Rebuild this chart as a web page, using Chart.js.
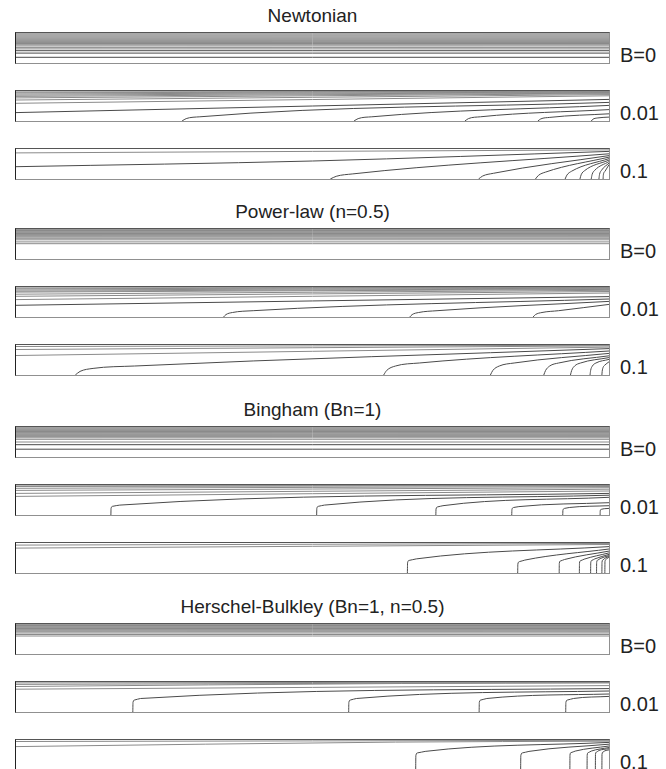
<!DOCTYPE html>
<html>
<head>
<meta charset="utf-8">
<script src="https://cdn.jsdelivr.net/npm/chart.js@4.4.1/dist/chart.umd.min.js"></script>
<style>
  body { margin: 0; width: 666px; height: 769px; overflow: hidden; background: #fff;
         font-family: "Liberation Sans", Arial, sans-serif; position: relative; color: #222; }
  .title { position: absolute; left: 16px; width: 593px; text-align: center; font-size: 19px; line-height: 22px; }
  .label { position: absolute; left: 620px; font-size: 20px; line-height: 22px; }
  .panel { position: absolute; left: 15px; width: 593px; height: 30px;
           border: 1px solid #909090; border-left-color: #222; border-top-color: #555; }
  .panel canvas { display: block; }
</style>
</head>
<body>
<script>
// group titles and row labels
const titles = ['Newtonian', 'Power-law (n=0.5)', 'Bingham (Bn=1)', 'Herschel-Bulkley (Bn=1, n=0.5)'];
const rowLabels = ['B=0', '0.01', '0.1'];

// B=0: heights (0 = bottom wall, 1 = top) of the straight streamlines
const newtonianB0 = [1, .965, .93, .895, .86, .825, .79, .755, .72, .685, .65, .61, .57, .52, .47, .41, .33, .19];
const powerLawB0  = [1, .975, .95, .925, .9, .875, .85, .82, .79, .76, .73, .69, .64, .57, .51];
const binghamB0   = [1, .97, .94, .91, .88, .85, .82, .79, .755, .72, .68, .64, .59, .5, .41, .26];
const hbB0        = [1, .975, .95, .925, .9, .875, .85, .825, .8, .77, .74, .7, .65, .6];

// B>0: streamlines as [x, y] points (x along the channel, y up)
const newtonianB001 = [
  [[0, .97], [1, .99]], [[0, .94], [1, .98]], [[0, .9], [1, .965]], [[0, .86], [1, .95]],
  [[0, .82], [1, .93]], [[0, .77], [1, .91]], [[0, .7], [1, .88]], [[0, .59], [1, .84]],
  [[0, .28], [.5, .5], [1, .72]],
  [[.28, 0], [.287, .08], [.31, .14], [1, .62]],
  [[.57, 0], [.577, .08], [.6, .14], [1, .52]],
  [[.757, 0], [.763, .08], [.783, .14], [1, .38]],
  [[.88, 0], [.885, .07], [.9, .12], [1, .24]],
  [[.97, 0], [.973, .06], [.98, .1], [1, .13]]
];
const newtonianB01 = [
  [[0, .87], [1, .97]],
  [[0, .41], [.5, .6], [1, .92]],
  [[.53, 0], [.54, .09], [.568, .17], [1, .84]],
  [[.78, 0], [.787, .1], [.805, .19], [1, .78]],
  [[.876, 0], [.881, .12], [.893, .23], [1, .73]],
  [[.926, 0], [.929, .13], [.937, .26], [1, .68]],
  [[.951, 0], [.953, .14], [.959, .28], [1, .63]],
  [[.97, 0], [.9715, .15], [.976, .29], [1, .58]],
  [[.983, 0], [.984, .15], [.987, .28], [1, .53]],
  [[.99, 0], [.9905, .14], [.993, .25], [1, .48]]
];
const powerLawB001 = [
  [[0, .97], [1, .99]], [[0, .94], [1, .98]], [[0, .9], [1, .96]], [[0, .86], [1, .94]],
  [[0, .83], [1, .92]], [[0, .76], [1, .89]], [[0, .69], [1, .85]], [[0, .58], [1, .8]],
  [[0, .39], [1, .68]],
  [[.35, 0], [.354, .08], [.365, .15], [.4, .21], [1, .6]],
  [[.664, 0], [.668, .08], [.679, .15], [.71, .21], [1, .52]],
  [[.872, 0], [.876, .08], [.887, .15], [.915, .21], [1, .42]]
];
const powerLawB01 = [
  [[0, .95], [1, .99]], [[0, .85], [1, .97]], [[0, .65], [1, .93]],
  [[.1, 0], [.108, .12], [.13, .22], [.2, .3], [1, .88]],
  [[.62, 0], [.625, .15], [.64, .3], [.68, .4], [1, .8]],
  [[.8, 0], [.804, .15], [.815, .3], [.84, .4], [1, .72]],
  [[.89, 0], [.893, .15], [.9, .3], [.915, .4], [1, .64]],
  [[.935, 0], [.937, .15], [.942, .3], [.952, .4], [1, .58]],
  [[.968, 0], [.969, .15], [.972, .3], [.978, .4], [1, .52]],
  [[.988, 0], [.9885, .12], [.99, .25], [.993, .33], [1, .44]]
];
const binghamB001 = [
  [[0, .97], [1, .99]], [[0, .95], [1, .98]], [[0, .89], [1, .95]], [[0, .82], [1, .91]],
  [[0, .72], [1, .86]], [[0, .62], [1, .8]],
  [[.16, 0], [.1603, .22], [.163, .29], [.175, .33], [1, .72]],
  [[.507, 0], [.5073, .22], [.51, .29], [.52, .33], [1, .66]],
  [[.708, 0], [.7083, .2], [.711, .27], [.72, .31], [1, .59]],
  [[.836, 0], [.8363, .18], [.839, .25], [.848, .28], [1, .41]],
  [[.922, 0], [.9223, .16], [.925, .22], [.933, .25], [1, .31]],
  [[.985, 0], [.9852, .14], [.987, .19], [.992, .21], [1, .22]]
];
const binghamB01 = [
  [[0, .93], [1, .985]], [[0, .83], [1, .95]],
  [[.66, 0], [.6603, .34], [.663, .42], [.675, .47], [1, .88]],
  [[.846, 0], [.8463, .3], [.849, .38], [.858, .43], [1, .8]],
  [[.916, 0], [.9162, .32], [.918, .4], [.925, .45], [1, .73]],
  [[.95, 0], [.9502, .33], [.952, .41], [.958, .46], [1, .67]],
  [[.969, 0], [.9692, .34], [.971, .42], [.976, .47], [1, .62]],
  [[.979, 0], [.9792, .35], [.981, .43], [.985, .48], [1, .58]],
  [[.988, 0], [.9882, .36], [.99, .44], [.993, .49], [1, .55]],
  [[.993, 0], [.9932, .38], [.995, .45], [.997, .49], [1, .52]]
];
const hbB001 = [
  [[0, .97], [1, .995]], [[0, .92], [1, .98]], [[0, .85], [.65, .95], [1, .97]], [[0, .76], [1, .88]],
  [[.197, 0], [.1973, .32], [.2, .4], [.21, .45], [1, .78]],
  [[.561, 0], [.5613, .32], [.564, .4], [.574, .45], [1, .7]],
  [[.781, 0], [.7813, .32], [.784, .4], [.794, .45], [1, .6]],
  [[.927, 0], [.9273, .32], [.93, .4], [.94, .45], [1, .52]]
];
const hbB01 = [
  [[0, .95], [1, .99]], [[0, .78], [.64, .93], [1, .96]],
  [[.674, 0], [.6743, .48], [.677, .57], [.69, .62], [1, .92]],
  [[.851, 0], [.8513, .48], [.854, .57], [.865, .62], [1, .86]],
  [[.934, 0], [.9342, .5], [.936, .58], [.943, .63], [1, .8]],
  [[.963, 0], [.9632, .5], [.965, .58], [.97, .63], [1, .75]],
  [[.977, 0], [.9772, .52], [.979, .6], [.983, .65], [1, .71]],
  [[.988, 0], [.9882, .52], [.99, .6], [.993, .64], [1, .67]]
];

const flat = hs => hs.map(h => [[0, h], [1, h]]);
const groups = [
  [flat(newtonianB0), newtonianB001, newtonianB01],
  [flat(powerLawB0), powerLawB001, powerLawB01],
  [flat(binghamB0), binghamB001, binghamB01],
  [flat(hbB0), hbB001, hbB01]
];

// layout (px)
const groupTop = [33, 229, 427, 624];
const rowOffset = [0, 58, 116];

// lines starting high on the left are drawn lighter, like the printed figure
const lineColor = pts => (pts[0][0] === 0 && pts[0][1] > 0.45) ? '#8a8a8a' : '#4a4a4a';

groups.forEach((rows, g) => {
  const t = document.createElement('div');
  t.className = 'title';
  t.textContent = titles[g];
  t.style.top = (groupTop[g] - 28) + 'px';
  document.body.appendChild(t);

  rows.forEach((lines, r) => {
    const top = groupTop[g] + rowOffset[r];
    const box = document.createElement('div');
    box.className = 'panel';
    box.style.top = (top - 1) + 'px';
    const canvas = document.createElement('canvas');
    canvas.width = 593;
    canvas.height = 30;
    box.appendChild(canvas);
    document.body.appendChild(box);

    const lab = document.createElement('div');
    lab.className = 'label';
    lab.textContent = rowLabels[r];
    lab.style.top = (top + 11) + 'px';
    document.body.appendChild(lab);

    new Chart(canvas, {
      type: 'line',
      data: {
        datasets: lines.map(pts => ({
          data: pts.map(p => ({ x: p[0], y: p[1] })),
          borderColor: lineColor(pts),
          borderWidth: 1,
          pointRadius: 0,
          fill: false,
          tension: 0,
          cubicInterpolationMode: pts.length > 2 ? 'monotone' : 'default'
        }))
      },
      options: {
        responsive: false,
        animation: false,
        devicePixelRatio: 1,
        events: [],
        layout: { padding: 0 },
        scales: {
          x: { type: 'linear', min: 0, max: 1, display: false },
          y: { type: 'linear', min: 0, max: 1, display: false }
        },
        plugins: { legend: { display: false }, tooltip: { enabled: false } }
      }
    });
  });
});
</script>
</body>
</html>
